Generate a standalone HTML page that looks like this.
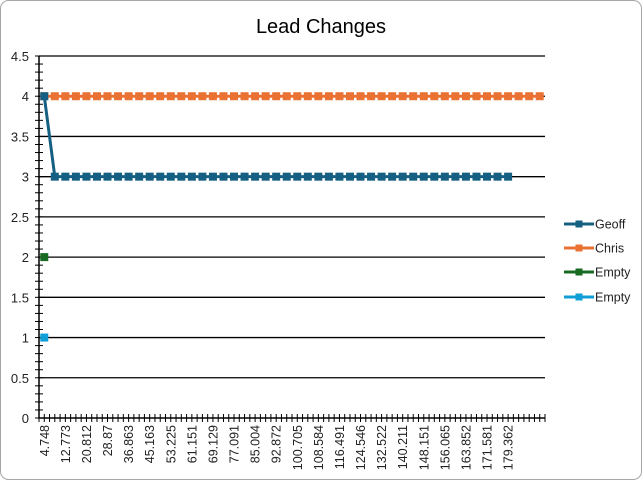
<!DOCTYPE html>
<html><head><meta charset="utf-8"><style>
html,body{margin:0;padding:0;background:#fff}
svg{display:block;font-family:"Liberation Sans",sans-serif}
</style></head><body>
<svg id="chart" width="642" height="480">
<rect x="0.5" y="0.5" width="641" height="479" rx="8" fill="#fff" stroke="#a6a6a6"/>
<text x="321" y="33" text-anchor="middle" font-size="20" fill="#000">Lead Changes</text>
<g id="grid"></g><g id="axes"></g><g id="series"></g><g id="legend"></g>
</svg>
<script>
const categoryLabels = ["4.748","","12.773","","20.812","","28.87","","36.863","","45.163","","53.225","","61.151","","69.129","","77.091","","85.004","","92.872","","100.705","","108.584","","116.491","","124.546","","132.522","","140.211","","148.151","","156.065","","163.852","","171.581","","179.362","","",""];
const geoffValues = [4,3,3,3,3,3,3,3,3,3,3,3,3,3,3,3,3,3,3,3,3,3,3,3,3,3,3,3,3,3,3,3,3,3,3,3,3,3,3,3,3,3,3,3,3];
const chrisValues = [4,4,4,4,4,4,4,4,4,4,4,4,4,4,4,4,4,4,4,4,4,4,4,4,4,4,4,4,4,4,4,4,4,4,4,4,4,4,4,4,4,4,4,4,4,4,4,4];
const empty1Values = [2];
const empty2Values = [1];
const yTicks = [0,0.5,1,1.5,2,2.5,3,3.5,4,4.5];
const seriesNames = ["Geoff","Chris","Empty","Empty"];

const NS="http://www.w3.org/2000/svg";
const X0=39,X1=545,Y0=418,Y1=56,YMAX=4.5;
const n=categoryLabels.length, step=(X1-X0)/n;
const xPos=i=>X0+step*(i+0.5);
const yPos=v=>Y0-(v/YMAX)*(Y0-Y1);
function mk(tag,attrs,parent){const e=document.createElementNS(NS,tag);for(const k in attrs)e.setAttribute(k,attrs[k]);parent.appendChild(e);return e;}
const grid=document.getElementById('grid'),axes=document.getElementById('axes'),ser=document.getElementById('series'),leg=document.getElementById('legend');
yTicks.forEach(v=>{
  const y=yPos(v);
  if(v>0){const l=mk('line',{x1:X0,x2:X1,y1:y,y2:y,stroke:'#000','stroke-width':1.3},grid);
  
  }
  const t=mk('text',{x:X0-10,y:y+5,'text-anchor':'end','font-size':13,fill:'#222'},axes);
  t.textContent=String(v);
  
  
});
for(let k=0;k<=45;k++){const y=Y0-k*(Y0-Y1)/45;mk('line',{x1:X0-4,x2:X0+4,y1:y,y2:y,stroke:'#000','stroke-width':1},axes);}
const ya=mk('line',{x1:X0,x2:X0,y1:Y1,y2:Y0,stroke:'#000','stroke-width':1.5},axes);


const xa=mk('line',{x1:X0,x2:X1,y1:Y0,y2:Y0,stroke:'#000','stroke-width':1.5},axes);


for(let k=0;k<=2*n;k++){const x=X0+k*step/2;mk('line',{x1:x,x2:x,y1:Y0-4,y2:Y0+4,stroke:'#000','stroke-width':1},axes);}
categoryLabels.forEach((c,i)=>{
  if(!c)return;
  const x=xPos(i)+4.5;
  const t=mk('text',{x:0,y:0,'text-anchor':'end','font-size':12.5,fill:'#222',transform:`translate(${x},425) rotate(-90)`},axes);
  t.textContent=c;
  
  
});
function drawSeries(vals,color,name){
  const g=mk('g',{},ser);
  
  
  if(vals.length>1)mk('polyline',{points:vals.map((v,i)=>xPos(i)+','+yPos(v)).join(' '),fill:'none',stroke:color,'stroke-width':3},g);
  vals.forEach((v,i)=>{const m=mk('rect',{x:xPos(i)-4,y:yPos(v)-4,width:8,height:8,fill:color},g);
  
  });
}
const colors=["#156082","#e97132","#196b24","#0f9ed5"];
drawSeries(chrisValues,colors[1],'series-chris');
drawSeries(geoffValues,colors[0],'series-geoff');
drawSeries(empty1Values,colors[2],'series-empty-1');
drawSeries(empty2Values,colors[3],'series-empty-2');
const ly=[224,248,272,297];
seriesNames.forEach((s,i)=>{
  const g=mk('g',{},leg);
  
  
  mk('line',{x1:564,x2:594,y1:ly[i],y2:ly[i],stroke:colors[i],'stroke-width':3},g);
  mk('rect',{x:575.5,y:ly[i]-3.5,width:7,height:7,fill:colors[i]},g);
  const t=mk('text',{x:595,y:ly[i]+4.5,'font-size':12.5,fill:'#222'},g);
  t.textContent=s;
});
</script>
</body></html>
